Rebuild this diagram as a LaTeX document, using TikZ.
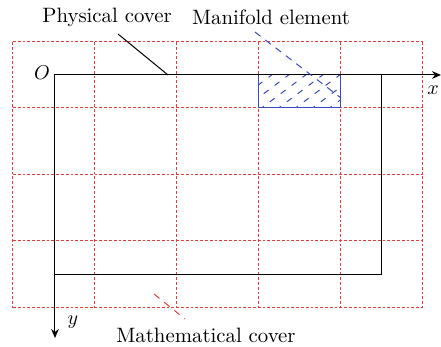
\documentclass[tikz,border=0pt]{standalone}
\usetikzlibrary{arrows.meta}
\definecolor{gridred}{RGB}{232,60,60}
\definecolor{mblue}{RGB}{60,72,190}
\begin{document}
\begin{tikzpicture}[x=0.5pt,y=-0.5pt,
  font=\fontsize{10.4}{12}\selectfont,
  gridline/.style={draw=gridred, line width=0.5pt, dash pattern=on 1.4pt off 1pt},
  blackline/.style={draw=black, line width=0.5pt},
  axis/.style={blackline, -{Stealth[length=4.5pt,width=3.8pt]}},
  hatchline/.style={draw=mblue, line width=0.5pt, dash pattern=on 3pt off 3.8pt},
  lab/.style={inner sep=1pt}]
\useasboundingbox (0,0) rectangle (441,347);
% mathematical cover grid
\foreach \x in {13,95,177,259,341,423} \draw[gridline] (\x,42) -- (\x,308);
\foreach \y in {42,108,175,241,308} \draw[gridline] (13,\y) -- (423,\y);
% manifold element
\begin{scope}
  \clip (259,75) rectangle (341,108);
  \foreach \i in {-3,...,5} \draw[hatchline] (259+\i*17,110) -- ++(64,-48);
\end{scope}
\draw[draw=mblue, line width=0.5pt] (259,75) rectangle (341,108);
% physical cover
\coordinate (orig) at (55,75);
\coordinate (xend) at (441,75);
\coordinate (yend) at (55,338);
\coordinate (pc) at (382,275);
\draw[blackline] (orig) rectangle (pc);
\draw[axis] (orig) -- (xend);
\draw[axis] (orig) -- (yend);
% labels
\node[lab] (O) at (42,73) {$O$};
\node[lab] (xl) at (433,90) {$x$};
\node[lab] (yl) at (73,322) {$y$};
\node[lab] (phys) at (107,17) {Physical cover};
\node[lab] (mani) at (271,17) {Manifold element};
\node[lab] (math) at (206,335) {Mathematical cover};
% leaders
\coordinate (p1) at (118,34);
\coordinate (p2) at (168,75);
\draw[blackline] (p1) -- (p2);
\coordinate (m1) at (255,32);
\coordinate (m2) at (341,98);
\draw[draw=mblue, line width=0.5pt, dash pattern=on 3.5pt off 3pt] (m1) -- (m2);
\coordinate (c1) at (154,294);
\coordinate (c2) at (185,319);
\draw[draw=gridred, line width=0.5pt, dash pattern=on 3.5pt off 3pt] (c1) -- (c2);
\end{tikzpicture}
\end{document}
